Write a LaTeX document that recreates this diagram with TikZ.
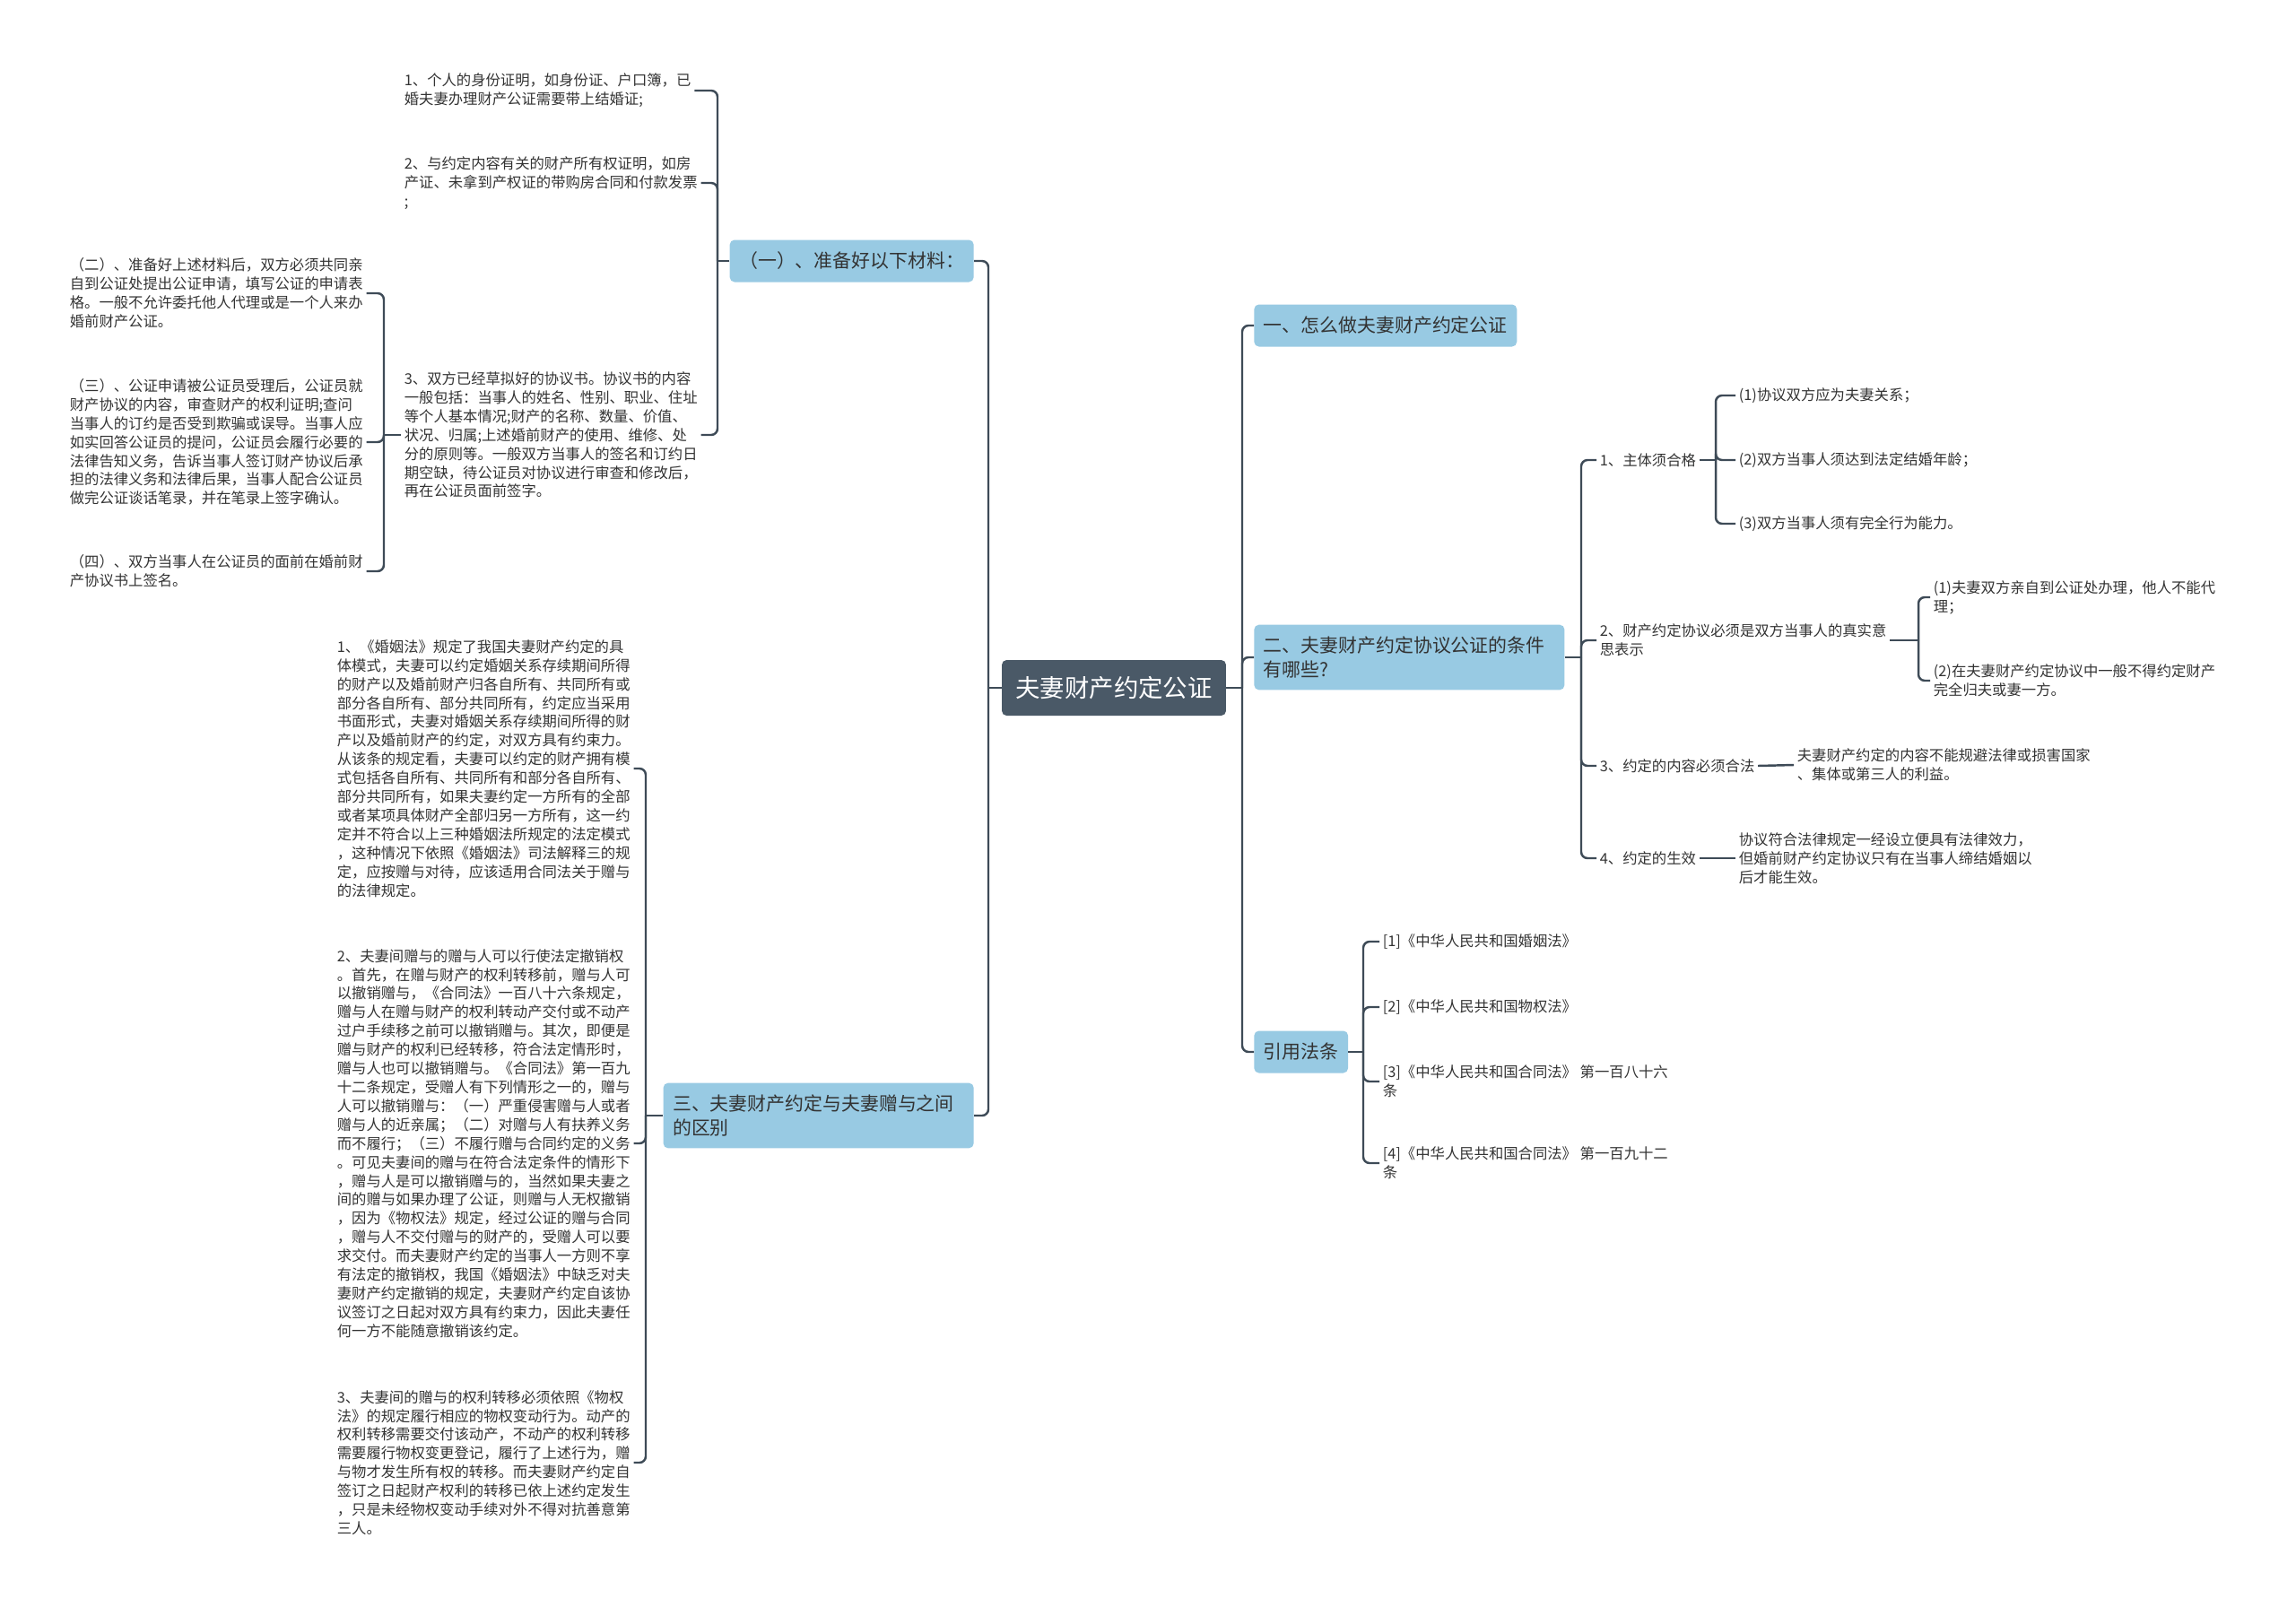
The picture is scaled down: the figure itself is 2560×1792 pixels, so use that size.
\documentclass[tikz,border=0pt]{standalone}
\usepackage{fontspec}
\setmainfont{Noto Sans CJK SC}

\definecolor{rootfill}{HTML}{4A5967}
\definecolor{topicfill}{HTML}{98CAE3}
\definecolor{linkc}{HTML}{3E4B57}
\definecolor{textc}{HTML}{333333}

\tikzset{
  root/.style={fill=rootfill, text=white, rounded corners=3pt,
    font=\fontsize{15.6}{18}\selectfont, minimum width=5cm,
    minimum height=1.24cm, inner sep=0pt},
  topic/.style={fill=topicfill, text=textc, rounded corners=3pt,
    font=\fontsize{11.9}{15.7}\selectfont, align=left,
    inner xsep=6pt, inner ysep=7.3pt, minimum height=0.94cm},
  leaf/.style={text=textc, font=\fontsize{9.3}{11.9}\selectfont,
    align=left, inner sep=2pt},
  link/.style={draw=linkc, line width=1.4pt, rounded corners=4pt},
}

\begin{document}
\begin{tikzpicture}[x=0.02cm,y=-0.02cm]
  \useasboundingbox (0,0) rectangle (2560,1792);

  % Centre
  \node[root] (root) at (1242,767) {夫妻财产约定公证};

  % Right-hand topics
  \node[topic,anchor=west] (t1) at (1398,363) {一、怎么做夫妻财产约定公证};
  \node[topic,anchor=west,text width=6.5cm] (t2) at (1398,733) {二、夫妻财产约定协议公证的条件\\有哪些?};
  \node[topic,anchor=west] (t4) at (1398,1173) {引用法条};

  % Left-hand topics
  \node[topic,anchor=east,minimum width=5.4cm] (t0) at (1086,291) {（一）、准备好以下材料：};
  \node[topic,anchor=east,text width=6.5cm] (t3) at (1086,1244) {三、夫妻财产约定与夫妻赠与之间\\的区别};

  % Conditions
  \node[leaf,anchor=west] (c1) at (1780,513) {1、主体须合格};
  \node[leaf,anchor=west] (c2) at (1780,714) {2、财产约定协议必须是双方当事人的真实意\\思表示};
  \node[leaf,anchor=west] (c3) at (1780,854) {3、约定的内容必须合法};
  \node[leaf,anchor=west] (c4) at (1780,957) {4、约定的生效};

  \node[leaf,anchor=west] (c11) at (1935,441) {(1)协议双方应为夫妻关系；};
  \node[leaf,anchor=west] (c12) at (1935,513) {(2)双方当事人须达到法定结婚年龄；};
  \node[leaf,anchor=west] (c13) at (1935,584) {(3)双方当事人须有完全行为能力。};

  \node[leaf,anchor=west] (c21) at (2152,666) {(1)夫妻双方亲自到公证处办理，他人不能代\\理；};
  \node[leaf,anchor=west] (c22) at (2152,759) {(2)在夫妻财产约定协议中一般不得约定财产\\完全归夫或妻一方。};

  \node[leaf,anchor=west] (c31) at (2000,853) {夫妻财产约定的内容不能规避法律或损害国家\\、集体或第三人的利益。};
  \node[leaf,anchor=west] (c41) at (1935,957) {协议符合法律规定一经设立便具有法律效力，\\但婚前财产约定协议只有在当事人缔结婚姻以\\后才能生效。};

  % Laws
  \node[leaf,anchor=west] (r1) at (1538,1050) {[1]《中华人民共和国婚姻法》};
  \node[leaf,anchor=west] (r2) at (1538,1123) {[2]《中华人民共和国物权法》};
  \node[leaf,anchor=west] (r3) at (1538,1206) {[3]《中华人民共和国合同法》 第一百八十六\\条};
  \node[leaf,anchor=west] (r4) at (1538,1297) {[4]《中华人民共和国合同法》 第一百九十二\\条};

  % Materials
  \node[leaf,anchor=west] (a1) at (447,101) {1、个人的身份证明，如身份证、户口簿，已\\婚夫妻办理财产公证需要带上结婚证;};
  \node[leaf,anchor=west] (a2) at (447,204) {2、与约定内容有关的财产所有权证明，如房\\产证、未拿到产权证的带购房合同和付款发票\\;};
  \node[leaf,anchor=west] (a3) at (447,485) {3、双方已经草拟好的协议书。协议书的内容\\一般包括：当事人的姓名、性别、职业、住址\\等个人基本情况;财产的名称、数量、价值、\\状况、归属;上述婚前财产的使用、维修、处\\分的原则等。一般双方当事人的签名和订约日\\期空缺，待公证员对协议进行审查和修改后，\\再在公证员面前签字。};

  \node[leaf,anchor=west] (b1) at (74,327) {（二）、准备好上述材料后，双方必须共同亲\\自到公证处提出公证申请，填写公证的申请表\\格。一般不允许委托他人代理或是一个人来办\\婚前财产公证。};
  \node[leaf,anchor=west] (b2) at (74,493) {（三）、公证申请被公证员受理后，公证员就\\财产协议的内容，审查财产的权利证明;查问\\当事人的订约是否受到欺骗或误导。当事人应\\如实回答公证员的提问，公证员会履行必要的\\法律告知义务，告诉当事人签订财产协议后承\\担的法律义务和法律后果，当事人配合公证员\\做完公证谈话笔录，并在笔录上签字确认。};
  \node[leaf,anchor=west] (b3) at (74,637) {（四）、双方当事人在公证员的面前在婚前财\\产协议书上签名。};

  % Gifts
  \node[leaf,anchor=west] (d1) at (372,857) {1、《婚姻法》规定了我国夫妻财产约定的具\\体模式，夫妻可以约定婚姻关系存续期间所得\\的财产以及婚前财产归各自所有、共同所有或\\部分各自所有、部分共同所有，约定应当采用\\书面形式，夫妻对婚姻关系存续期间所得的财\\产以及婚前财产的约定，对双方具有约束力。\\从该条的规定看，夫妻可以约定的财产拥有模\\式包括各自所有、共同所有和部分各自所有、\\部分共同所有，如果夫妻约定一方所有的全部\\或者某项具体财产全部归另一方所有，这一约\\定并不符合以上三种婚姻法所规定的法定模式\\，这种情况下依照《婚姻法》司法解释三的规\\定，应按赠与对待，应该适用合同法关于赠与\\的法律规定。};
  \node[leaf,anchor=west] (d2) at (372,1275) {2、夫妻间赠与的赠与人可以行使法定撤销权\\。首先，在赠与财产的权利转移前，赠与人可\\以撤销赠与，《合同法》一百八十六条规定，\\赠与人在赠与财产的权利转动产交付或不动产\\过户手续移之前可以撤销赠与。其次，即便是\\赠与财产的权利已经转移，符合法定情形时，\\赠与人也可以撤销赠与。《合同法》第一百九\\十二条规定，受赠人有下列情形之一的，赠与\\人可以撤销赠与：（一）严重侵害赠与人或者\\赠与人的近亲属；（二）对赠与人有扶养义务\\而不履行；（三）不履行赠与合同约定的义务\\。可见夫妻间的赠与在符合法定条件的情形下\\，赠与人是可以撤销赠与的，当然如果夫妻之\\间的赠与如果办理了公证，则赠与人无权撤销\\，因为《物权法》规定，经过公证的赠与合同\\，赠与人不交付赠与的财产的，受赠人可以要\\求交付。而夫妻财产约定的当事人一方则不享\\有法定的撤销权，我国《婚姻法》中缺乏对夫\\妻财产约定撤销的规定，夫妻财产约定自该协\\议签订之日起对双方具有约束力，因此夫妻任\\何一方不能随意撤销该约定。};
  \node[leaf,anchor=west] (d3) at (372,1631) {3、夫妻间的赠与的权利转移必须依照《物权\\法》的规定履行相应的物权变动行为。动产的\\权利转移需要交付该动产，不动产的权利转移\\需要履行物权变更登记，履行了上述行为，赠\\与物才发生所有权的转移。而夫妻财产约定自\\签订之日起财产权利的转移已依上述约定发生\\，只是未经物权变动手续对外不得对抗善意第\\三人。};

  % Right trunk
  \coordinate (jr) at (1385,767);
  \draw[link] (root.east) -- (jr);
  \foreach \t in {t1,t2,t4} \draw[link] (jr) |- (\t.west);

  \coordinate (j2) at (1763,733);
  \draw[link] (t2.east) -- (j2);
  \foreach \c in {c1,c2,c3,c4} \draw[link] (j2) |- (\c.west);

  \coordinate (j21) at (1913,513);
  \draw[link] (c1.east) -- (j21);
  \foreach \c in {c11,c12,c13} \draw[link] (j21) |- (\c.west);

  \coordinate (j22) at (2139,714);
  \draw[link] (c2.east) -- (j22);
  \foreach \c in {c21,c22} \draw[link] (j22) |- (\c.west);

  \draw[link] (c3.east) -- (c31.west);
  \draw[link] (c4.east) -- (c41.west);

  \coordinate (j4) at (1520,1173);
  \draw[link] (t4.east) -- (j4);
  \foreach \r in {r1,r2,r3,r4} \draw[link] (j4) |- (\r.west);

  % Left trunk
  \coordinate (jl) at (1102,767);
  \draw[link] (root.west) -- (jl);
  \foreach \t in {t0,t3} \draw[link] (jl) |- (\t.east);

  \coordinate (j0) at (800,291);
  \draw[link] (t0.west) -- (j0);
  \foreach \a in {a1,a2,a3} \draw[link] (j0) |- (\a.east);

  \coordinate (j03) at (428,485);
  \draw[link] (a3.west) -- (j03);
  \foreach \b in {b1,b2,b3} \draw[link] (j03) |- (\b.east);

  \coordinate (j3) at (720,1244);
  \draw[link] (t3.west) -- (j3);
  \foreach \d in {d1,d2,d3} \draw[link] (j3) |- (\d.east);

\end{tikzpicture}
\end{document}
